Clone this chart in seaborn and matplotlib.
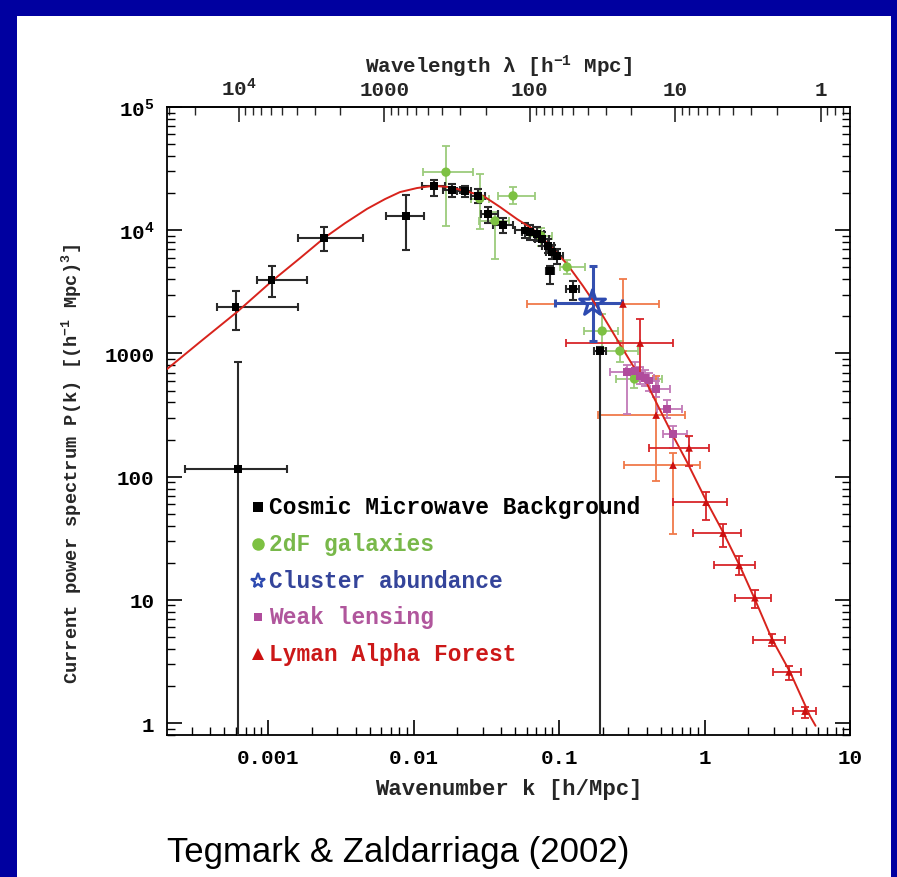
import numpy as np
import matplotlib
matplotlib.use("Agg")
import matplotlib.pyplot as plt
import seaborn as sns
from matplotlib.patches import Rectangle
from matplotlib.lines import Line2D
from matplotlib.ticker import FixedLocator, LogLocator, NullFormatter

# ---------------- data ----------------
# Cosmic Microwave Background band powers
cmb_k   = [6.2e-4, 6.0e-4, 1.06e-3, 2.43e-3, 8.87e-3, 0.0138, 0.0184, 0.0226, 0.0277, 0.0325,
           0.0412, 0.0583, 0.0632, 0.0705, 0.0763, 0.084, 0.0893, 0.0968, 0.0867, 0.125, 0.191]
cmb_P   = [115, 2380, 3950, 8650, 13000, 22900, 21200, 20800, 19000, 13500,
           11000, 10000, 9700, 9300, 8500, 7450, 6660, 6170, 4670, 3330, 1045]
cmb_klo = [2.7e-4, 4.46e-4, 8.4e-4, 1.6e-3, 6.5e-3, 0.0115, 0.016, 0.020, 0.025, 0.029,
           0.035, 0.050, 0.056, 0.063, 0.068, 0.076, 0.081, 0.089, 0.081, 0.112, 0.175]
cmb_khi = [1.35e-3, 1.6e-3, 1.85e-3, 4.5e-3, 0.0118, 0.0165, 0.021, 0.025, 0.031, 0.038,
           0.048, 0.066, 0.071, 0.079, 0.085, 0.092, 0.098, 0.106, 0.093, 0.138, 0.21]
cmb_Plo = [0.01, 1540, 2870, 6780, 6900, 19000, 18500, 18500, 16500, 11500,
           9500, 8700, 8400, 8100, 7400, 6500, 5800, 5300, 3650, 2700, 0.01]
cmb_Phi = [850, 3200, 5120, 10600, 19300, 25600, 23500, 23000, 21500, 15500,
           12500, 11500, 11100, 10600, 9700, 8500, 7600, 7100, 5100, 3900, 1120]

# 2dF galaxy survey
gal_k   = [0.0167, 0.0285, 0.0363, 0.0483, 0.075, 0.1135, 0.198, 0.262, 0.33]
gal_P   = [29600, 18000, 11900, 19000, 9000, 5030, 1520, 1045, 620]
gal_klo = [0.0116, 0.025, 0.028, 0.038, 0.062, 0.101, 0.149, 0.19, 0.246]
gal_khi = [0.0257, 0.033, 0.045, 0.068, 0.09, 0.150, 0.254, 0.35, 0.51]
gal_Plo = [10800, 10200, 5840, 16300, 7500, 4400, 1100, 850, 520]
gal_Phi = [48000, 28600, 14000, 22300, 10500, 5700, 2100, 1250, 740]

# Cluster abundance
clu_k   = [0.17]
clu_P   = [2550]
clu_klo = [0.094]
clu_khi = [0.27]
clu_Plo = [1260]
clu_Phi = [5120]

# Weak lensing
wl_k   = [0.293, 0.333, 0.36, 0.39, 0.415, 0.465, 0.552, 0.607]
wl_P   = [706, 720, 656, 630, 600, 514, 354, 222]
wl_klo = [0.225, 0.29, 0.31, 0.34, 0.36, 0.42, 0.47, 0.52]
wl_khi = [0.361, 0.38, 0.41, 0.45, 0.48, 0.58, 0.70, 0.76]
wl_Plo = [322, 600, 560, 540, 500, 440, 300, 170]
wl_Phi = [800, 850, 770, 740, 700, 600, 420, 260]

# Lyman alpha forest (narrow errors)
lya_k   = [0.361, 0.783, 1.024, 1.34, 1.73, 2.22, 2.91, 3.81, 4.91]
lya_P   = [1213, 171, 62, 34.8, 19.1, 10.4, 4.72, 2.6, 1.25]
lya_klo = [0.112, 0.416, 0.607, 0.827, 1.17, 1.63, 2.17, 2.97, 4.06]
lya_khi = [0.608, 1.07, 1.43, 1.79, 2.24, 2.85, 3.6, 4.6, 5.8]
lya_Plo = [656, 122, 44.5, 27, 15.9, 8.6, 4.2, 2.25, 1.1]
lya_Phi = [1900, 214, 75, 41, 22.6, 12, 5.3, 2.9, 1.35]

# Lyman alpha forest (broad errors)
lyb_k   = [0.275, 0.465, 0.607]
lyb_P   = [2520, 316, 124]
lyb_klo = [0.0603, 0.185, 0.28]
lyb_khi = [0.486, 0.734, 0.93]
lyb_Plo = [1045, 92, 34]
lyb_Phi = [4020, 650, 155]

# Best-fit model power spectrum
model_k = [2.02e-4, 3.41e-4, 6.12e-4, 1.065e-3, 1.66e-3, 2.43e-3, 3.38e-3, 4.79e-3, 6.37e-3,
           8.07e-3, 0.01057, 0.0136, 0.0178, 0.0301, 0.0394, 0.0515, 0.0662, 0.0867, 0.1135,
           0.146, 0.191, 0.262, 0.323, 0.403, 0.472, 0.608, 0.759, 1.04, 1.34, 1.75, 2.22,
           2.91, 3.87, 5.31, 5.8]
model_P = [746, 1240, 2170, 3870, 5940, 8650, 11400, 14900, 17900,
           20400, 22000, 22900, 22400, 19000, 15400, 12300, 10200, 7450, 5320,
           3530, 2210, 1190, 791, 565, 388, 214, 131, 62, 35.5, 18.8, 10.1,
           4.8, 2.6, 1.14, 0.95]

xticks = [0.001, 0.01, 0.1, 1, 10]
xticklabels = ["0.001", "0.01", "0.1", "1", "10"]
yticks = [1, 10, 100, 1000, 1e4, 1e5]
yticklabels = ["1", "10", "100", "1000", r"$\mathregular{10^4}$", r"$\mathregular{10^5}$"]
lamticks = [1e4, 1000, 100, 10, 1]
lamticklabels = [r"$\mathregular{10^4}$", "1000", "100", "10", "1"]

legend_labels = ["Cosmic Microwave Background", "2dF galaxies", "Cluster abundance",
                 "Weak lensing", "Lyman Alpha Forest"]

# ---------------- style ----------------
sns.set_theme(style="ticks")
plt.rcParams["font.family"] = ["Liberation Mono", "DejaVu Sans Mono"]
plt.rcParams["font.weight"] = "bold"
plt.rcParams["axes.labelweight"] = "bold"
plt.rcParams["mathtext.default"] = "regular"
plt.rcParams["axes.linewidth"] = 1.3

W, H = 897, 878
fig = plt.figure(figsize=(W / 100, H / 100), dpi=100)
fig.patch.set_facecolor("#0000a0")
fig.add_artist(Rectangle((17 / W, 0), (W - 17 - 6) / W, (H - 17) / H,
                         transform=fig.transFigure, facecolor="white",
                         edgecolor="none", zorder=-10))

L, R, T, B = 167, 850, 108, 736
ax = fig.add_axes([L / W, 1 - B / H, (R - L) / W, (B - T) / H])
ax.set_facecolor("white")
ax.set_xscale("log")
ax.set_yscale("log")
ax.set_xlim(2.02e-4, 10)
ax.set_ylim(0.8, 1e5)


def draw_set(k, P, klo, khi, Plo, Phi, ecol, elw, z):
    k = np.asarray(k); P = np.asarray(P)
    xerr = [k - np.asarray(klo), np.asarray(khi) - k]
    yerr = [P - np.asarray(Plo), np.asarray(Phi) - P]
    ax.errorbar(k, P, xerr=xerr, yerr=yerr, fmt="none", ecolor=ecol,
                elinewidth=elw, capsize=3, capthick=elw, zorder=z)


# error bars
draw_set(gal_k, gal_P, gal_klo, gal_khi, gal_Plo, gal_Phi, "#9ccb7c", 1.3, 2)
draw_set(cmb_k, cmb_P, cmb_klo, cmb_khi, cmb_Plo, cmb_Phi, "#2a2a2a", 1.5, 3)
draw_set(lyb_k, lyb_P, lyb_klo, lyb_khi, lyb_Plo, lyb_Phi, "#f07a4a", 1.3, 2)
draw_set(wl_k, wl_P, wl_klo, wl_khi, wl_Plo, wl_Phi, "#c27ab8", 1.3, 3)
draw_set(lya_k, lya_P, lya_klo, lya_khi, lya_Plo, lya_Phi, "#d8252a", 1.3, 3)
draw_set(clu_k, clu_P, clu_klo, clu_khi, clu_Plo, clu_Phi, "#3550b0", 2.2, 4)

# model curve
sns.lineplot(x=model_k, y=model_P, color="#d8231c", lw=1.4, ax=ax,
             sort=False, estimator=None, zorder=5)

# markers
sns.scatterplot(x=gal_k, y=gal_P, marker="o", color="#7dc142", s=45,
                edgecolor="none", ax=ax, zorder=6)
sns.scatterplot(x=cmb_k, y=cmb_P, marker="s", color="black", s=28,
                edgecolor="none", ax=ax, zorder=7)
sns.scatterplot(x=wl_k, y=wl_P, marker="s", color="#b04c9c", s=28,
                edgecolor="none", ax=ax, zorder=7)
sns.scatterplot(x=lya_k + lyb_k, y=lya_P + lyb_P, marker="^", color="#cc1010",
                s=30, edgecolor="none", ax=ax, zorder=7)
sns.scatterplot(x=clu_k, y=clu_P, marker="*", s=380, facecolor="none",
                edgecolor="#2d4ab0", linewidth=2.2, ax=ax, zorder=8)

# ---------------- axes & ticks ----------------
ax.xaxis.set_major_locator(FixedLocator(xticks))
ax.set_xticklabels(xticklabels)
ax.yaxis.set_major_locator(FixedLocator(yticks))
ax.set_yticklabels(yticklabels)
ax.xaxis.set_minor_locator(LogLocator(base=10, subs=np.arange(2, 10), numticks=20))
ax.yaxis.set_minor_locator(LogLocator(base=10, subs=np.arange(2, 10), numticks=20))
ax.xaxis.set_minor_formatter(NullFormatter())
ax.yaxis.set_minor_formatter(NullFormatter())
ax.tick_params(which="both", direction="in", top=False, right=True,
               colors="black", labelsize=15)
ax.tick_params(which="major", length=11, width=1.2, pad=9)
ax.tick_params(which="minor", length=6, width=1.0)
for sp in ax.spines.values():
    sp.set_visible(True)
    sp.set_color("black")
    sp.set_linewidth(1.3)

ax.set_xlabel("Wavenumber k [h/Mpc]", fontsize=16, labelpad=8)
ax.set_ylabel(r"Current power spectrum P(k) [(h$^{-1}$ Mpc)$^3$]", fontsize=13.5)
ax.yaxis.set_label_coords(-0.122, 0.433)


def k2lam(k):
    k = np.asarray(k, dtype=float)
    with np.errstate(divide="ignore", invalid="ignore"):
        return 2 * np.pi / k


secax = ax.secondary_xaxis("top", functions=(k2lam, k2lam))
secax.xaxis.set_major_locator(FixedLocator(lamticks))
secax.set_xticklabels(lamticklabels)
secax.xaxis.set_minor_locator(LogLocator(base=10, subs=np.arange(2, 10), numticks=20))
secax.xaxis.set_minor_formatter(NullFormatter())
secax.tick_params(which="both", direction="in", labelsize=15)
secax.tick_params(which="major", length=11, width=1.2, pad=6)
secax.tick_params(which="minor", length=6, width=1.0)
secax.set_xlabel(r"Wavelength λ [h$^{-1}$ Mpc]", fontsize=15, labelpad=5)
secax.xaxis.set_label_coords(0.485, 1.0 + 28 / 628, transform=ax.transAxes)
secax.xaxis.label.set_va("bottom")

# ---------------- legend ----------------
leg_rows = [
    (508, "s", "black", "black", 7),
    (545, "o", "#7dc142", "#7dc142", 9),
    (582, "*", "white", "#2d4ab0", 11),
    (618, "s", "#b04c9c", "#b04c9c", 6),
    (655, "^", "#cc1010", "#cc1010", 8),
]
text_cols = ["black", "#78b84a", "#34449a", "#b0569c", "#cc1818"]
for (yy, mk, fc, ec, ms), label, tc in zip(leg_rows, legend_labels, text_cols):
    fig.add_artist(Line2D([258 / W], [1 - yy / H], transform=fig.transFigure,
                          marker=mk, markersize=ms, markerfacecolor=fc,
                          markeredgecolor=ec, markeredgewidth=1.6 if mk == "*" else 0,
                          linestyle="none", zorder=20))
    fig.text(269 / W, 1 - yy / H, label, color=tc, fontsize=16.5,
             ha="left", va="center", zorder=20)

fig.text(167 / W, 1 - 853 / H, "Tegmark & Zaldarriaga (2002)", color="black",
         fontsize=25, fontweight="normal", family=["Liberation Sans", "DejaVu Sans"],
         ha="left", va="center")

fig.savefig("out.png", dpi=100, facecolor=fig.get_facecolor())
